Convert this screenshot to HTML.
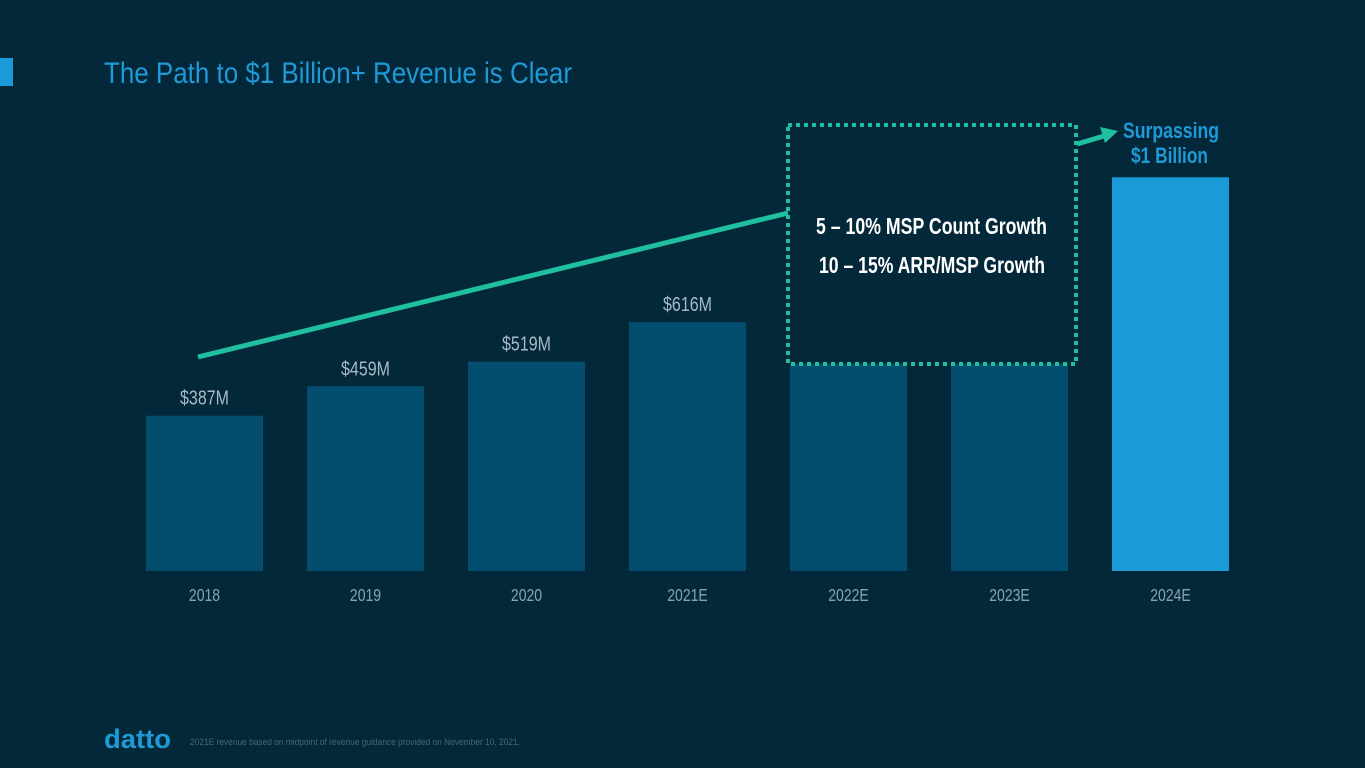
<!DOCTYPE html>
<html><head><meta charset="utf-8"><style>
html,body{margin:0;padding:0;background:#03283a;}
svg{display:block;font-family:"Liberation Sans",sans-serif;}
</style></head><body>
<svg id="chart" width="1365" height="768" viewBox="0 0 1365 768">
<rect width="1365" height="768" fill="#03283a"/>
<rect x="0" y="58" width="13" height="28" fill="#1a9ad6"/>
<text x="104" y="83" font-size="30" fill="#1f9ad6" textLength="468" lengthAdjust="spacingAndGlyphs">The Path to $1 Billion+ Revenue is Clear</text>
<g id="bars"></g>
<line x1="198" y1="357" x2="788" y2="213" stroke="#1fbfa0" stroke-width="5"/>
<rect x="788" y="125" width="288" height="239" fill="#03283a" stroke="#1fbfa0" stroke-width="4" stroke-dasharray="4 4"/>
<text x="816" y="234" font-size="23" font-weight="bold" fill="#ffffff" textLength="231" lengthAdjust="spacingAndGlyphs">5 – 10% MSP Count Growth</text>
<text x="819" y="273" font-size="23" font-weight="bold" fill="#ffffff" textLength="226" lengthAdjust="spacingAndGlyphs">10 – 15% ARR/MSP Growth</text>
<line x1="1077" y1="144" x2="1104" y2="136" stroke="#1fbfa0" stroke-width="5"/>
<polygon points="1118,131 1100,127 1105,143" fill="#1fbfa0"/>
<text x="1123" y="138" font-size="22" font-weight="bold" fill="#1f9ad6" textLength="96" lengthAdjust="spacingAndGlyphs">Surpassing</text>
<text x="1131" y="163" font-size="22" font-weight="bold" fill="#1f9ad6" textLength="77" lengthAdjust="spacingAndGlyphs">$1 Billion</text>
<text x="104" y="748" font-size="27" font-weight="bold" fill="#1f9ad6" textLength="67" lengthAdjust="spacingAndGlyphs">datto</text>
<text x="190" y="745" font-size="9" fill="#4a6578" textLength="330" lengthAdjust="spacingAndGlyphs">2021E revenue based on midpoint of revenue guidance provided on November 10, 2021.</text>
</svg>
<script>
const categories=["2018","2019","2020","2021E","2022E","2023E","2024E"];
const revenues=[387,459,519,616,720,830,970];
const valueLabels=["$387M","$459M","$519M","$616M","","",""];
const highlight=[false,false,false,false,false,false,true];
const baseY=571,x0=146,step=161,bw=117;
function xScale(i){return x0+i*step;}
function yScale(v){return baseY+3-0.409*v;}
const g=document.getElementById('bars');
const ns="http://www.w3.org/2000/svg";
categories.forEach((c,i)=>{
  const r=document.createElementNS(ns,'rect');
  const top=yScale(revenues[i]);
  r.setAttribute('x',xScale(i));r.setAttribute('y',top);
  r.setAttribute('width',bw);r.setAttribute('height',baseY-top);
  r.setAttribute('fill',highlight[i]?'#1a9ad6':'#034e6e');
  
  
  g.appendChild(r);
  const cx=xScale(i)+bw/2;
  const t=document.createElementNS(ns,'text');
  t.setAttribute('x',0);t.setAttribute('y',601);
  t.setAttribute('transform','translate('+cx+',0) scale(0.78,1)');
  t.setAttribute('font-size','18');t.setAttribute('fill','#8aa3b1');t.setAttribute('text-anchor','middle');
  t.textContent=c;
  
  
  g.appendChild(t);
  if(valueLabels[i]){
    const v=document.createElementNS(ns,'text');
    v.setAttribute('x',0);v.setAttribute('y',top-11);
    v.setAttribute('transform','translate('+cx+',0) scale(0.8,1)');
    v.setAttribute('font-size','20');v.setAttribute('fill','#a7b9c4');v.setAttribute('text-anchor','middle');
    v.textContent=valueLabels[i];
    
    
    g.appendChild(v);
  }
});
</script>
</body></html>
